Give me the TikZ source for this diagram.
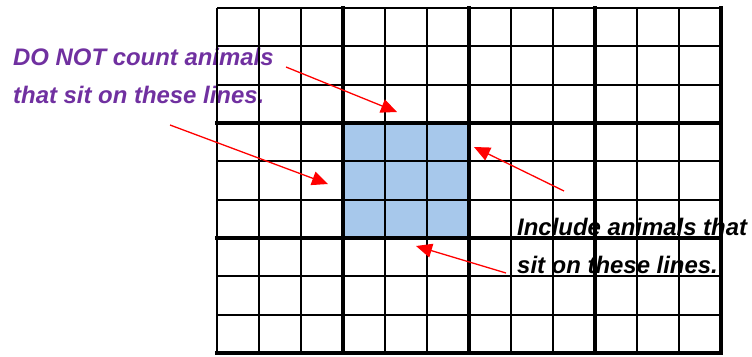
\documentclass[tikz,border=0pt]{standalone}
\usepackage{fontspec}
\setmainfont{Liberation Sans}
\usetikzlibrary{arrows.meta}
\definecolor{notpurple}{RGB}{112,48,160}
\definecolor{cellblue}{RGB}{167,200,235}
\tikzset{
  thinline/.style={black, line width=2bp},
  thickline/.style={black, line width=4bp, line cap=rect},
  note/.style={inner sep=0pt, align=left, font=\fontsize{24}{37.5}\selectfont\bfseries\itshape},
  pointer/.style={->, red, line width=1.3bp}
}
\begin{document}
\begin{tikzpicture}[x=1bp, y=-1bp, >={Triangle[length=16bp, width=14bp]}]
\def\cw{42} \def\ch{38.333}
\def\xo{217} \def\yo{8}
\useasboundingbox (0,0) rectangle (752,356);
% labels (base = last line)
\node[note, notpurple, anchor=base west] (donot) at (13,103) {DO NOT count animals\\that sit on these lines.};
\node[note, anchor=base west] (include) at (517,273) {Include animals that\\sit on these lines.};
% centre block
\fill[cellblue] ({\xo+3*\cw},{\yo+3*\ch}) rectangle ({\xo+6*\cw},{\yo+6*\ch});
% grid
\foreach \i in {0,...,12}
  \draw[thinline] ({\xo+\i*\cw},\yo) -- ({\xo+\i*\cw},{\yo+9*\ch});
\foreach \j in {0,...,9}
  \draw[thinline] (\xo,{\yo+\j*\ch}) -- ({\xo+12*\cw},{\yo+\j*\ch});
\foreach \i in {3,6,9,12}
  \draw[thickline] ({\xo+\i*\cw},\yo) -- ({\xo+\i*\cw},{\yo+9*\ch});
\foreach \j in {3,6,9}
  \draw[thickline] (\xo,{\yo+\j*\ch}) -- ({\xo+12*\cw},{\yo+\j*\ch});
% pointers
\coordinate (ps1) at (286,67);  \coordinate (pt1) at (397,112);
\coordinate (ps2) at (170,125); \coordinate (pt2) at (328,184);
\coordinate (ps3) at (564,191); \coordinate (pt3) at (474,147);
\coordinate (ps4) at (506,273); \coordinate (pt4) at (416,246);
\foreach \n in {1,...,4}
  \draw[pointer] (ps\n) -- (pt\n);
\end{tikzpicture}
\end{document}
